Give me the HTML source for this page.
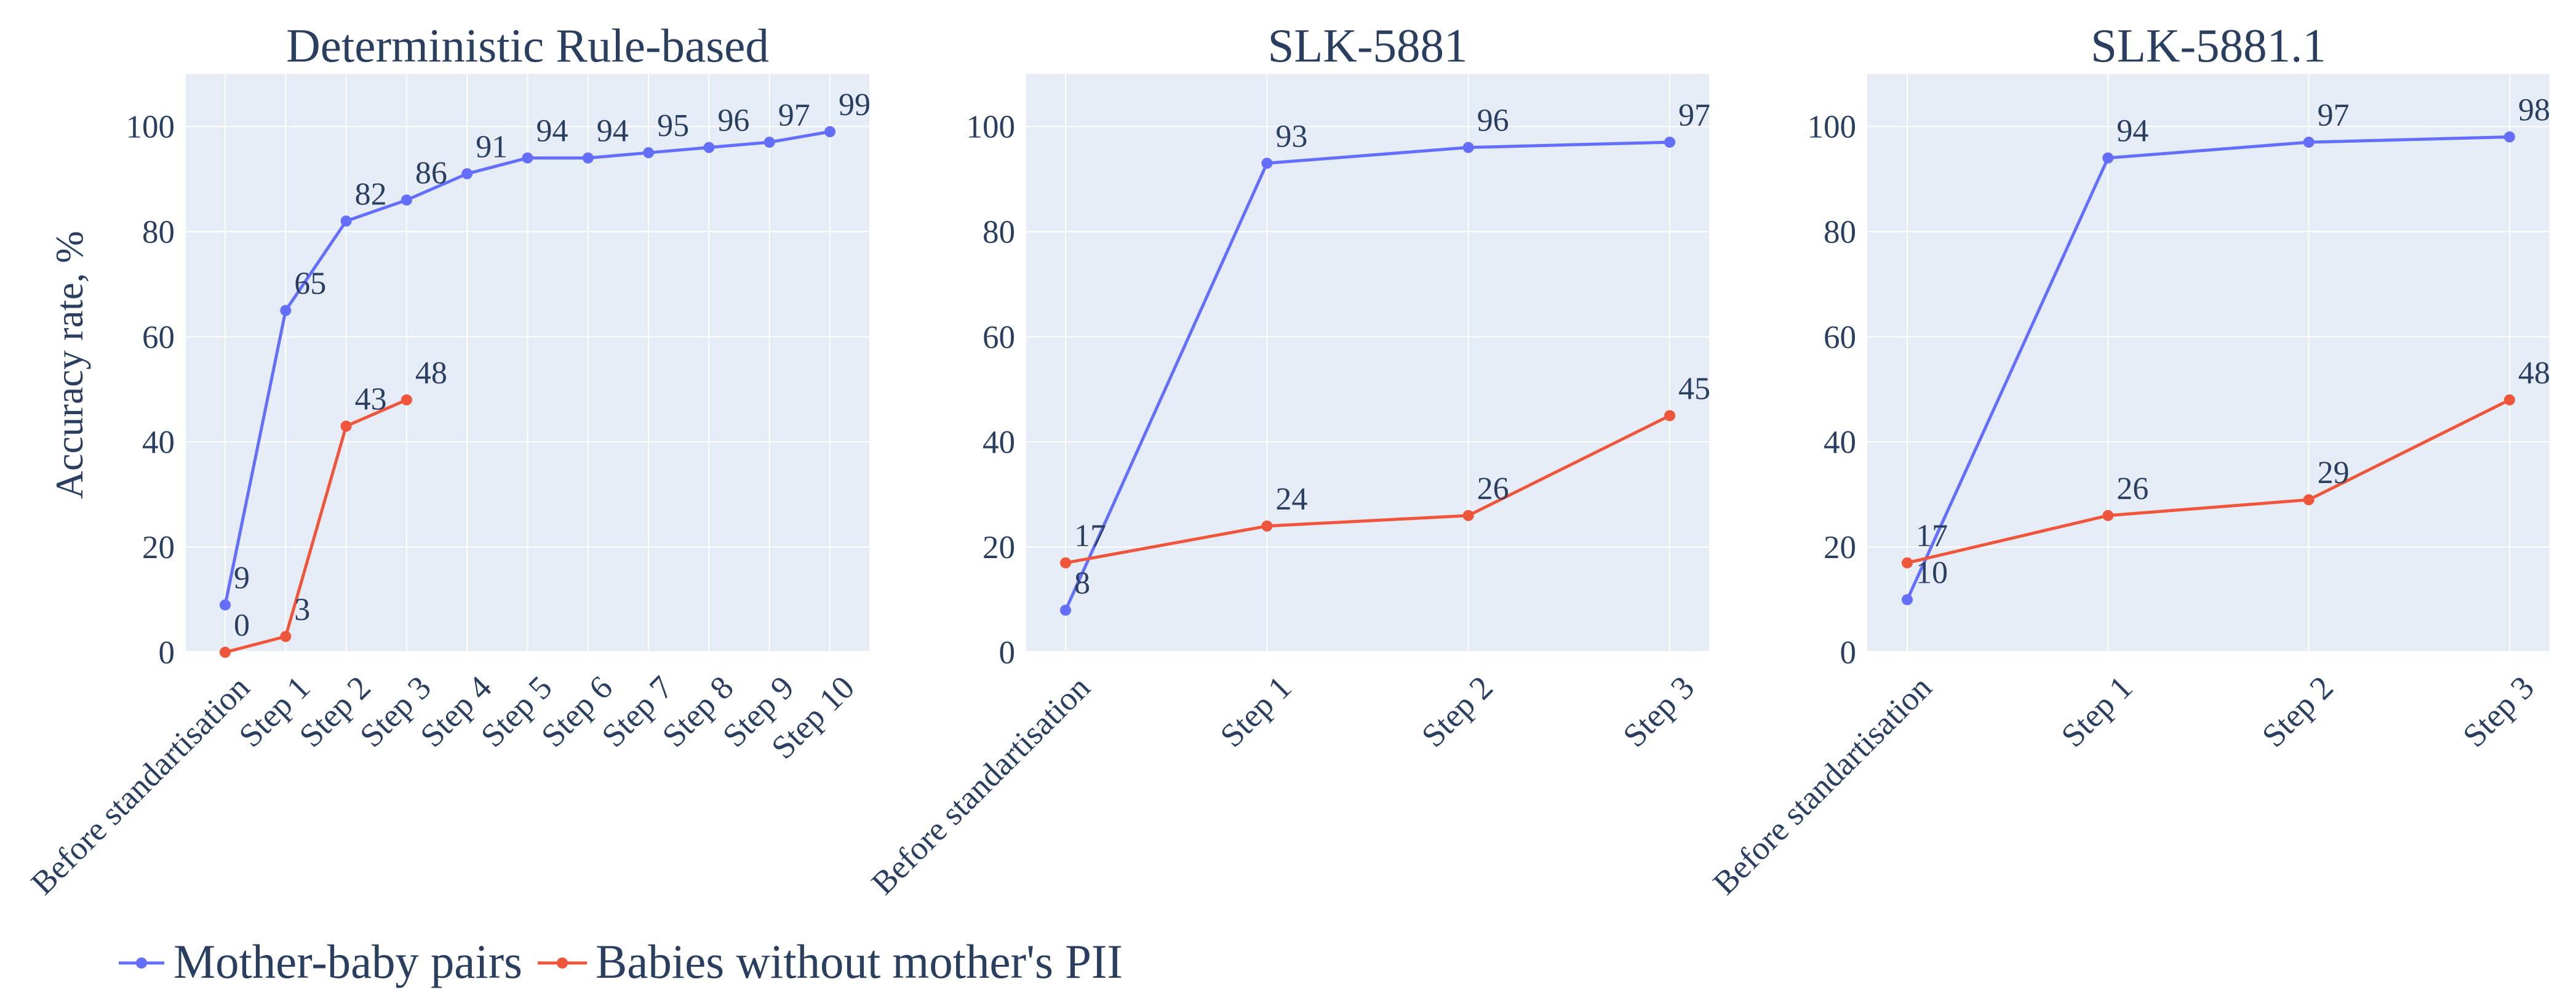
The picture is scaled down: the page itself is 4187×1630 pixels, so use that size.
<!DOCTYPE html>
<html><head><meta charset="utf-8"><style>
body{margin:0;background:#fff}
svg{display:block;font-family:"Liberation Serif",serif;fill:#2a3f5f}
</style></head><body>
<svg id="chart" width="4187" height="1630" viewBox="0 0 4187 1630" xmlns="http://www.w3.org/2000/svg">
<g id="panels"></g>
<text x="0" y="0" transform="translate(134,593) rotate(-90)" text-anchor="middle" font-size="63">Accuracy rate, %</text>
<g>
 <g>
  <line x1="193" y1="1565" x2="267" y2="1565" stroke="#636efa" stroke-width="5"/>
  <circle cx="230" cy="1565" r="9" fill="#636efa"/>
  <text x="282" y="1589" font-size="78" textLength="567" lengthAdjust="spacingAndGlyphs">Mother-baby pairs</text>
 </g>
 <g>
  <line x1="874" y1="1565" x2="954" y2="1565" stroke="#ef553b" stroke-width="5"/>
  <circle cx="914" cy="1565" r="9" fill="#ef553b"/>
  <text x="968" y="1589" font-size="78" textLength="857" lengthAdjust="spacingAndGlyphs">Babies without mother's PII</text>
 </g>
</g>
</svg>
<script>
const titles = ["Deterministic Rule-based", "SLK-5881", "SLK-5881.1"];
const categoriesRule = ["Before standartisation","Step 1","Step 2","Step 3","Step 4","Step 5","Step 6","Step 7","Step 8","Step 9","Step 10"];
const categoriesSlk = ["Before standartisation","Step 1","Step 2","Step 3"];
const motherRule = [9,65,82,86,91,94,94,95,96,97,99];
const babiesRule = [0,3,43,48];
const mother5881 = [8,93,96,97];
const babies5881 = [17,24,26,45];
const mother58811 = [10,94,97,98];
const babies58811 = [17,26,29,48];
const yTicks = [0,20,40,60,80,100];

const NS = "http://www.w3.org/2000/svg";
const panelsG = document.getElementById('panels');
const layout = [
  {left:302,right:1413,pad:64,cats:categoriesRule,mother:motherRule,babies:babiesRule,name:'rule-based'},
  {left:1668,right:2778,pad:64,cats:categoriesSlk,mother:mother5881,babies:babies5881,name:'slk-5881'},
  {left:3035,right:4144,pad:65,cats:categoriesSlk,mother:mother58811,babies:babies58811,name:'slk-5881-1'}
];
const TOP=120, BOT=1060, YMAX=110;
function yScale(v){return BOT-(v/YMAX)*(BOT-TOP);}
function mk(tag,attrs,parent){const e=document.createElementNS(NS,tag);for(const k in attrs)e.setAttribute(k,attrs[k]);parent.appendChild(e);return e;}

layout.forEach((p,pi)=>{
  const g=mk('g',{},panelsG);
  
  
  const x0=p.left+p.pad, x1=p.right-p.pad;
  const n=p.cats.length;
  const xScale=i=>x0+(x1-x0)*i/(n-1);
  const bg=mk('rect',{x:p.left,y:TOP,width:p.right-p.left,height:BOT-TOP,fill:'#e5ecf6'},g);
  
  
  yTicks.forEach(t=>{
    const y=yScale(t);
    const gl=mk('line',{x1:p.left,x2:p.right,y1:y,y2:y,stroke:'#fff','stroke-width':t===0?4:2},g);
    
    
    const tl=mk('text',{x:p.left-18,y:y+18,'text-anchor':'end','font-size':53},g);
    
    
    tl.textContent=t;
  });
  p.cats.forEach((c,i)=>{
    const x=xScale(i);
    const gl=mk('line',{x1:x,x2:x,y1:TOP,y2:BOT,stroke:'#fff','stroke-width':2},g);
    
    
    const tl=mk('text',{x:0,y:0,transform:`translate(${x+16},${BOT+34}) rotate(-45)`,'text-anchor':'end','font-size':54,dy:'0.7em'},g);
    
    
    tl.textContent=c;
  });
  const title=mk('text',{x:(p.left+p.right)/2,y:100,'text-anchor':'middle','font-size':77},g);
  
  
  title.textContent=titles[pi];
  [[p.mother,'#636efa','mother-baby'],[p.babies,'#ef553b','babies']].forEach(([vals,col,nm])=>{
    const pts=vals.map((v,i)=>xScale(i)+','+yScale(v)).join(' ');
    const pl=mk('polyline',{points:pts,fill:'none',stroke:col,'stroke-width':5,'stroke-linejoin':'round'},g);
    
    
    vals.forEach((v,i)=>{
      const c=mk('circle',{cx:xScale(i),cy:yScale(v),r:9,fill:col},g);
      
      
      const t=mk('text',{x:xScale(i)+14,y:yScale(v)-27,'font-size':52},g);
      
      
      t.textContent=v;
    });
  });
});
</script>
</body></html>
